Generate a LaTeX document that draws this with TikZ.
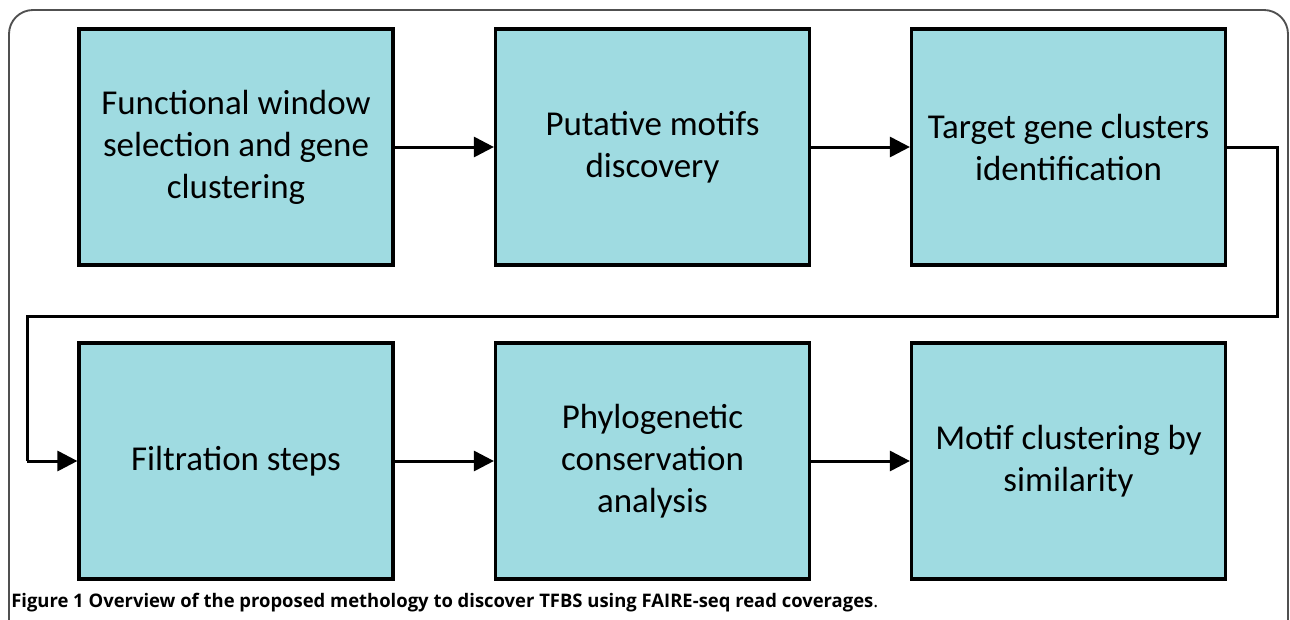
\documentclass[tikz,border=0pt]{standalone}
\usepackage{fontspec}
\setmainfont{Carlito}
\newfontfamily\capfont{Open Sans}
\usetikzlibrary{arrows.meta}
\definecolor{boxfill}{RGB}{159,219,225}
\definecolor{framegray}{RGB}{80,80,80}
\newsavebox\capbox
\begin{document}
\sbox\capbox{\capfont\fontsize{14}{16}\selectfont\bfseries Figure 1 Overview of the proposed methology to discover TFBS using FAIRE-seq read coverages\mdseries.}%
\begin{tikzpicture}[x=0.75pt,y=-0.75pt,
  stepbox/.style={draw=black,line width=2.4pt,fill=boxfill,minimum width=235.5pt,minimum height=177pt,inner sep=0pt,align=center,font=\fontsize{26.2}{31.5}\selectfont},
  conn/.style={draw=black,line width=2.25pt,-{Triangle[length=15pt,width=15pt]}},
  link/.style={draw=black,line width=2.25pt}]
\useasboundingbox (0,0) rectangle (1290,619);
\begin{scope}
\clip (0,0) rectangle (1290,619);
\draw[framegray,line width=1.4pt,rounded corners=18pt] (9,10) rectangle (1288,720);
\end{scope}
\node[stepbox] (b1) at (236,147) {Functional window\\selection and gene\\clustering};
\node[stepbox] (b2) at (652.5,147) {Putative motifs\\discovery};
\node[stepbox] (b3) at (1068.5,147) {Target gene clusters\\identification};
\node[stepbox] (b4) at (236,461) {Filtration steps};
\node[stepbox] (b5) at (652.5,461) {Phylogenetic\\conservation\\analysis};
\node[stepbox] (b6) at (1068.5,461) {Motif clustering by\\similarity};
\draw[conn] (b1) -- (b2);
\draw[conn] (b2) -- (b3);
\draw[conn] (b4) -- (b5);
\draw[conn] (b5) -- (b6);
\coordinate (r1) at (1277,147);
\coordinate (r2) at (1277,316);
\coordinate (l1) at (27,316);
\coordinate (l2) at (27,461);
\draw[link] (b3.east) -- (r1) -- (r2) -- (l1) -- (l2);
\draw[conn] (l2) -- (b4.west);
\pgfmathsetmacro\capratio{650.25pt/\wd\capbox}
\node[anchor=base west,inner sep=0pt] (cap) at (11,607) {\scalebox{\capratio}[1]{\usebox\capbox}};
\end{tikzpicture}
\end{document}
